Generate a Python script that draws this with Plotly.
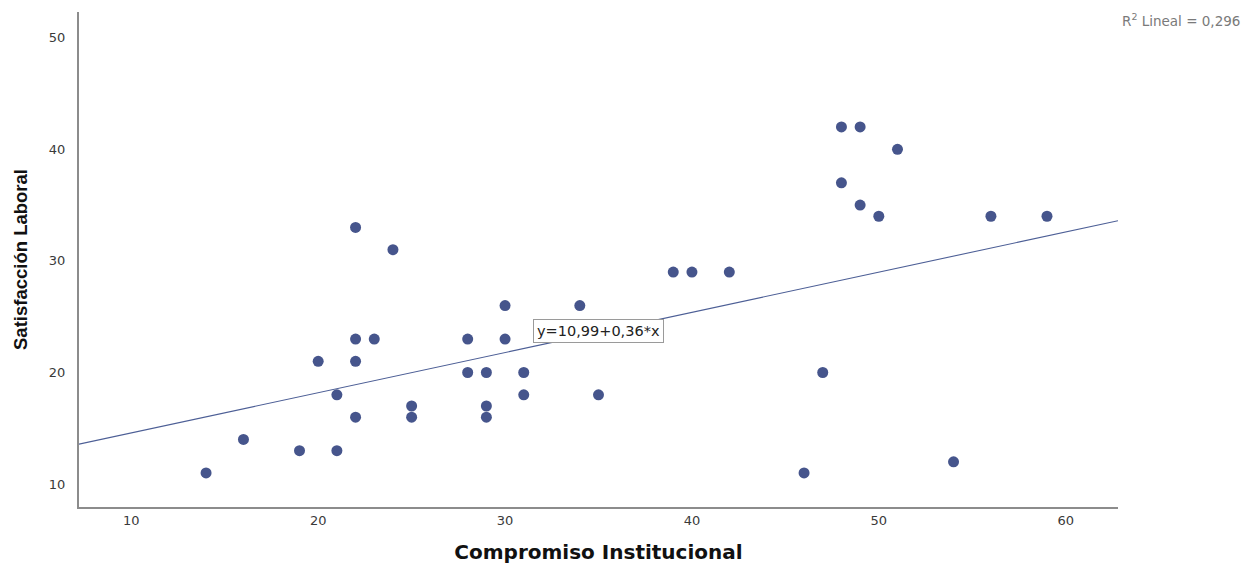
import numpy as np
import plotly.graph_objects as go

# Compromiso Institucional (x) vs Satisfacción Laboral (y)
compromiso = [14, 16, 19, 20, 21, 21, 22, 22, 22, 22, 23, 24, 25, 25, 28, 28, 29, 29, 29,
              30, 30, 31, 31, 34, 35, 39, 40, 42, 46, 47, 48, 48, 49, 49, 50, 51, 54, 56, 59]
satisfaccion = [11, 14, 13, 21, 18, 13, 33, 23, 21, 16, 23, 31, 17, 16, 23, 20, 20, 17, 16,
                26, 23, 20, 18, 26, 18, 29, 29, 29, 11, 20, 42, 37, 42, 35, 34, 40, 12, 34, 34]

# Linear fit reported with the chart
intercepto = 10.99
pendiente = 0.36
r2 = 0.296

x_tick_vals = [10, 20, 30, 40, 50, 60]
y_tick_vals = [10, 20, 30, 40, 50]

x_range = [7.2, 62.8]
y_range = [7.95, 52.3]

punto_color = "#46558c"
linea_color = "#4d5f96"


def coma(v, dec):
    return f"{v:.{dec}f}".replace(".", ",")


fig = go.Figure()

xs_fit = np.array(x_range)
fig.add_trace(go.Scatter(
    x=xs_fit, y=intercepto + pendiente * xs_fit,
    mode="lines", line=dict(color=linea_color, width=1.1),
    hoverinfo="skip", showlegend=False,
))

fig.add_trace(go.Scatter(
    x=compromiso, y=satisfaccion, mode="markers",
    marker=dict(color=punto_color, size=11, symbol="circle",
                line=dict(width=0)),
    showlegend=False,
))

# Equation label on the fit line
fig.add_annotation(
    x=35.0, y=23.7, xref="x", yref="y",
    text=f"y={coma(intercepto, 2)}+{coma(pendiente, 2)}*x", showarrow=False,
    font=dict(family="DejaVu Sans, Verdana, sans-serif", size=14.5, color="#222222"),
    bgcolor="white", bordercolor="#9a9a9a", borderwidth=1, borderpad=3,
)

# R² note, top right corner
fig.add_annotation(
    x=1.0, y=1.0, xref="paper", yref="paper", showarrow=False,
    xanchor="right", yanchor="middle", xshift=124, yshift=-8,
    text=f"R<sup>2</sup> Lineal = {coma(r2, 3)}",
    font=dict(family="DejaVu Sans, Verdana, sans-serif", size=13.5, color="#7a7a7a"),
)

axis_font = dict(family="DejaVu Sans, Verdana, sans-serif", size=13, color="#3a3a3a")

fig.update_layout(
    width=1257, height=564,
    margin=dict(l=79, r=139, t=12, b=57, autoexpand=False),
    paper_bgcolor="white", plot_bgcolor="white",
    xaxis=dict(
        range=x_range, tickvals=x_tick_vals, showgrid=False, zeroline=False,
        showline=True, linecolor="#8c8c8c", linewidth=2, ticks="",
        ticklabelstandoff=0, tickfont=axis_font, automargin=False,
        title=dict(text="<b>Compromiso Institucional</b>", standoff=18,
                   font=dict(family="DejaVu Sans, Verdana, sans-serif", size=20, color="#111111")),
    ),
    yaxis=dict(
        range=y_range, tickvals=y_tick_vals, showgrid=False, zeroline=False,
        showline=True, linecolor="#8c8c8c", linewidth=2, ticks="",
        ticklabelstandoff=9, tickfont=axis_font, automargin=False,
        title=dict(text="<b>Satisfacción Laboral</b>", standoff=16,
                   font=dict(family="Liberation Sans Narrow, Liberation Sans, Arial, sans-serif",
                             size=18.5, color="#111111")),
    ),
)

fig.write_html("out.html")
